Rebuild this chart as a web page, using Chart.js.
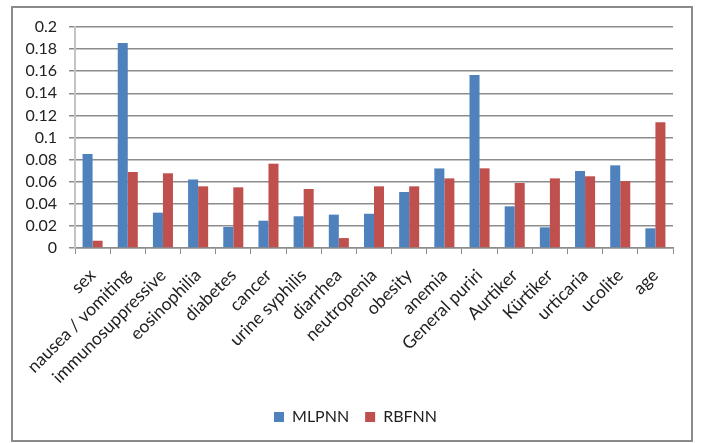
<!DOCTYPE html>
<html>
<head>
<meta charset="utf-8">
<script src="https://cdn.jsdelivr.net/npm/chart.js@4"></script>
<style>
  html, body { margin: 0; padding: 0; background: #fff; }
  #wrap { width: 702px; height: 443px; }
</style>
</head>
<body>
<div id="wrap"><canvas id="chart" width="702" height="443"></canvas></div>
<script>
const categories = ["sex", "nausea / vomiting", "immunosuppressive", "eosinophilia", "diabetes", "cancer",
  "urine syphilis", "diarrhea", "neutropenia", "obesity", "anemia", "General puriri",
  "Aurtiker", "Kürtiker", "urticaria", "ucolite", "age"];
const mlpnn = [0.085, 0.1855, 0.032, 0.062, 0.019, 0.0247, 0.0287, 0.0302, 0.031, 0.0507,
  0.072, 0.1566, 0.0377, 0.0187, 0.0697, 0.0748, 0.0178];
const rbfnn = [0.0066, 0.0688, 0.0676, 0.0558, 0.0549, 0.0763, 0.0534, 0.009, 0.0558, 0.0558,
  0.063, 0.0721, 0.0588, 0.063, 0.0649, 0.0606, 0.1137];
const yMin = 0, yMax = 0.2, yStep = 0.02;

// outer frame like the excel chart border
const frame = {
  id: "frame",
  beforeDraw(chart) {
    const ctx = chart.ctx;
    ctx.save();
    ctx.strokeStyle = "#8a8a8a";
    ctx.lineWidth = 2;
    ctx.strokeRect(12, 7, 680, 434);
    ctx.restore();
  }
};

// legend sits centred on the frame, not on the padded layout box
const legendShift = {
  id: "legendShift",
  afterLayout(chart) {
    chart.legend.left += 19;
    chart.legend.right += 19;
  }
};

const tickFont = { family: "Lato", size: 16 };
const labelFont = { family: "Lato", size: 17.5 };

new Chart(document.getElementById("chart"), {
  type: "bar",
  data: {
    labels: categories,
    datasets: [
      { label: "MLPNN", data: mlpnn, backgroundColor: "#4f81bd" },
      { label: "RBFNN", data: rbfnn, backgroundColor: "#c0504d" }
    ]
  },
  options: {
    responsive: false,
    animation: false,
    layout: { padding: { left: 0, right: 29, top: 27, bottom: 8 } },
    datasets: { bar: { barPercentage: 1, categoryPercentage: 0.57 } },
    plugins: {
      legend: {
        position: "bottom",
        labels: { boxWidth: 10, boxHeight: 10, padding: 16, color: "#222", font: tickFont }
      },
      tooltip: { enabled: false }
    },
    scales: {
      x: {
        grid: { display: true, drawOnChartArea: false, tickLength: 6, color: "#8c8c8c" },
        border: { color: "#8c8c8c", width: 1.5 },
        ticks: { minRotation: 45, maxRotation: 45, autoSkip: false, color: "#222", font: labelFont, padding: 11 },
        afterFit(scale) { scale.height = 145; }
      },
      y: {
        min: yMin,
        max: yMax,
        ticks: {
          stepSize: yStep,
          autoSkip: false,
          color: "#222",
          font: tickFont,
          padding: 12,
          callback: v => String(parseFloat(v.toFixed(2)))
        },
        grid: { color: "#8c8c8c", lineWidth: 1.5, tickLength: 6 },
        border: { color: "#c4c4c4", width: 2 },
        afterFit(scale) { scale.width = 75; }
      }
    }
  },
  plugins: [frame, legendShift]
});
</script>
</body>
</html>
